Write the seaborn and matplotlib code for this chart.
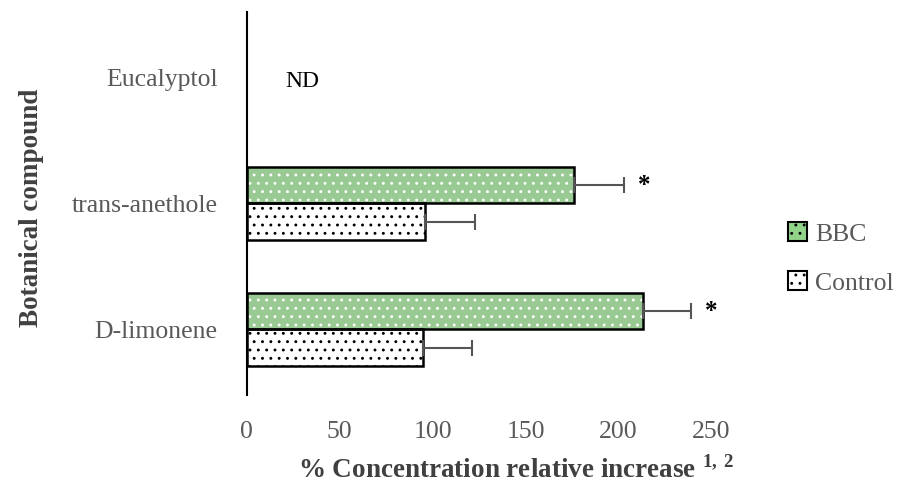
import numpy as np
import pandas as pd
import matplotlib
matplotlib.use("Agg")
import matplotlib.pyplot as plt
from matplotlib.patches import Patch
import seaborn as sns

# dados
compostos = ["Eucalyptol", "trans-anethole", "D-limonene"]
grupos = ["BBC", "Control"]
bbc_valores = [np.nan, 176, 213]
bbc_erros = [np.nan, 27, 26]
controle_valores = [np.nan, 96, 95]
controle_erros = [np.nan, 27, 26]
significativo = [False, True, True]
ticks_x = [0, 50, 100, 150, 200, 250]

VERDE = "#92d38a"
CINZA_TXT = "#595959"

sns.set_style("white")
plt.rcParams["font.family"] = ["Liberation Serif", "DejaVu Serif"]
plt.rcParams["mathtext.fontset"] = "custom"
plt.rcParams["mathtext.rm"] = "Liberation Serif"
plt.rcParams["mathtext.bf"] = "Liberation Serif:bold"
plt.rcParams["hatch.linewidth"] = 0.9

df = pd.DataFrame({
    "composto": compostos * 2,
    "grupo": ["BBC"] * 3 + ["Control"] * 3,
    "valor": bbc_valores + controle_valores,
    "erro": bbc_erros + controle_erros,
})

fig = plt.figure(figsize=(9.04, 4.88), dpi=100)
ax = fig.add_axes([0.273, 0.191, 0.514, 0.784])

sns.barplot(data=df.dropna(), y="composto", x="valor", hue="grupo",
            order=compostos, hue_order=grupos, orient="h", width=0.58,
            palette=[VERDE, "white"], errorbar=None, legend=False, ax=ax)

# estilizar barras: pontilhado branco no verde, preto no controle
for bar in list(ax.patches):
    cor = bar.get_facecolor()
    verde = cor[1] < 0.95
    bar.set_edgecolor("white" if verde else "black")
    bar.set_hatch("..")
    bar.set_linewidth(0)
    x, y = bar.get_x(), bar.get_y()
    w, h = bar.get_width(), bar.get_height()
    ax.add_patch(plt.Rectangle((x, y), w, h, fill=False, edgecolor="black",
                               linewidth=1.8, zorder=3))

# barras de erro (só para a direita)
pos = np.arange(len(compostos))
dh = 0.58 / 4
for vals, errs, off in [(bbc_valores, bbc_erros, -dh), (controle_valores, controle_erros, dh)]:
    v = np.array(vals, dtype=float)
    e = np.array(errs, dtype=float)
    m = ~np.isnan(v)
    ax.errorbar(v[m], pos[m] + off, xerr=[np.zeros(m.sum()), e[m]], fmt="none",
                ecolor="#555555", elinewidth=1.5, capsize=6, capthick=1.5, zorder=4)

for i, sig in enumerate(significativo):
    if sig:
        ax.annotate("*", (bbc_valores[i] + bbc_erros[i], i - dh), xytext=(10, 0),
                    textcoords="offset points", ha="left", va="center",
                    fontsize=18, fontweight="bold", color="black")
ax.text(30, 0.03, "ND", ha="center", va="center", fontsize=17, color="black")

ax.set_xlim(0, 250)
ax.set_ylim(2.52, -0.52)
ax.set_xticks(ticks_x)
ax.tick_params(axis="both", length=0, labelsize=18.5, labelcolor=CINZA_TXT)
ax.tick_params(axis="x", pad=19)
ax.tick_params(axis="y", pad=21)
for lado in ["top", "right", "bottom"]:
    ax.spines[lado].set_visible(False)
ax.spines["left"].set_color("black")
ax.spines["left"].set_linewidth(1.5)

ax.set_xlabel(r"% Concentration relative increase $^{\mathbf{1,\,2}}$", fontsize=19.5,
              fontweight="bold", color="#404040")
ax.xaxis.set_label_coords(0.58, -0.16)
ax.set_ylabel("Botanical compound", fontsize=19.5, fontweight="bold",
              color="#404040")
ax.yaxis.set_label_coords(-0.437, 0.49)

handles = [Patch(facecolor=VERDE, edgecolor="black", hatch="..", linewidth=1.5),
           Patch(facecolor="white", edgecolor="black", hatch="..", linewidth=1.5)]
leg = fig.legend(handles, grupos, loc="center left", bbox_to_anchor=(0.846, 0.47),
                 frameon=False, fontsize=18.5, handlelength=0.75, handleheight=0.75,
                 handletextpad=0.3, labelspacing=1.0)
for t in leg.get_texts():
    t.set_color(CINZA_TXT)

fig.savefig("out.png", dpi=100)
